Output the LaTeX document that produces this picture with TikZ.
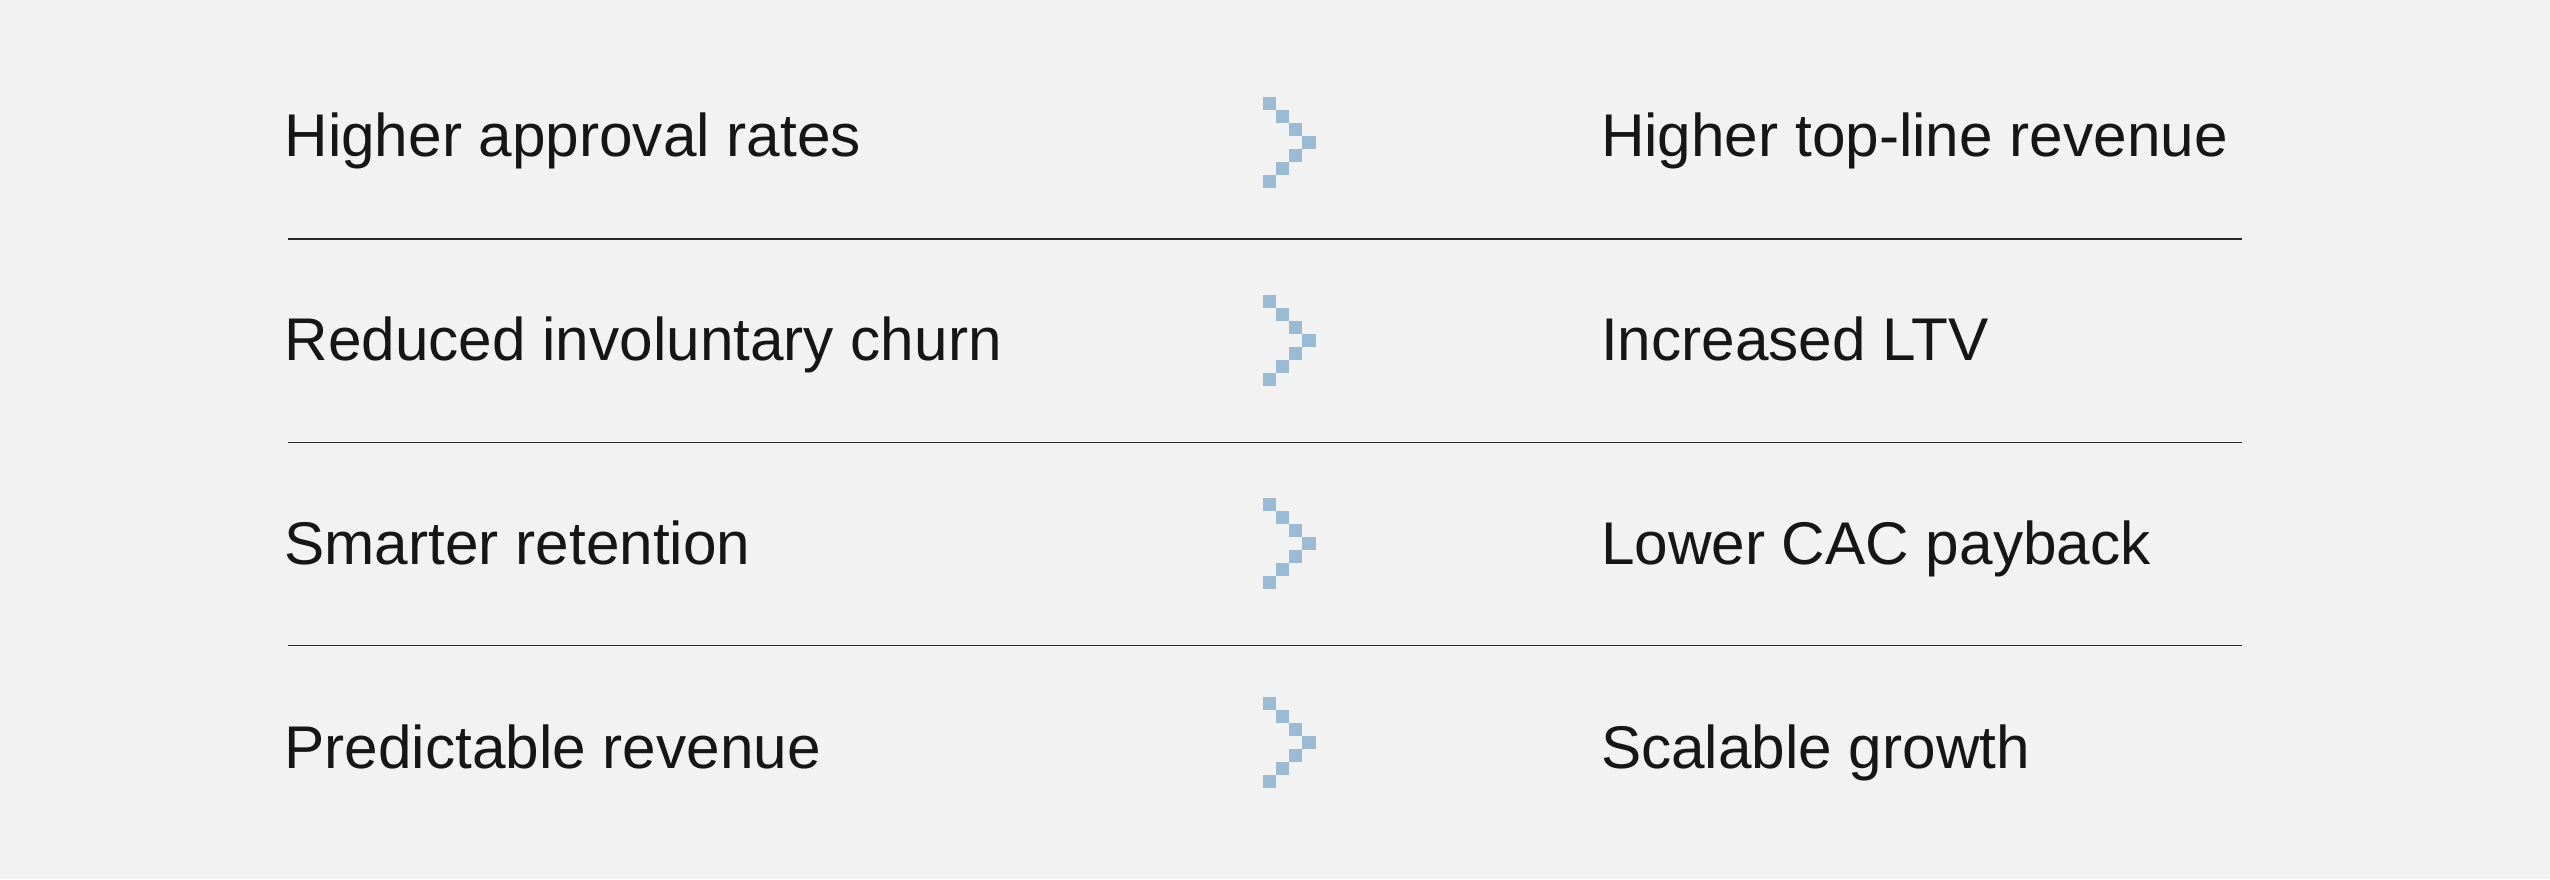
\documentclass[tikz,border=0pt]{standalone}
\usepackage{fontspec}
\setmainfont{Liberation Sans}
\definecolor{bg}{HTML}{F2F2F2}
\definecolor{ink}{HTML}{161616}
\definecolor{pix}{HTML}{9BBAD4}
\definecolor{rule}{HTML}{2A2A2A}
\begin{document}
\begin{tikzpicture}[x=1pt,y=-1pt,
  lbl/.style={anchor=base west,inner sep=0pt,outer sep=0pt,text=ink,font=\fontsize{60.3}{70}\selectfont},
  sep/.style={draw=rule,line width=1.3pt},
  px/.style={fill=pix}]
\fill[bg] (0,0) rectangle (2550,879);
\useasboundingbox (0,0) rectangle (2550,879);
% rows
\foreach \i/\b/\a/\L/\R in {1/156.7/96.7/Higher approval rates/Higher top-line revenue,
                            2/360.7/295/Reduced involuntary churn/Increased LTV,
                            3/564.7/498/Smarter retention/Lower CAC payback,
                            4/768.7/697/Predictable revenue/Scalable growth}{
  \node[lbl] (l\i) at (284.5,\b) {\L};
  \node[lbl] (r\i) at (1601,\b) {\R};
  \foreach \c/\r in {0/0,1/1,2/2,3/3,2/4,1/5,0/6}{
    \fill[px] ({1262.7+13.2*\c},{\a+13*\r}) rectangle ++(13.2,13);
  }
}
% separators
\foreach \j/\y in {1/239,2/442.5,3/645.7}{
  \coordinate (s\j a) at (288,\y);
  \coordinate (s\j b) at (2242,\y);
  \draw[sep] (s\j a) -- (s\j b);
}
\end{tikzpicture}
\end{document}
